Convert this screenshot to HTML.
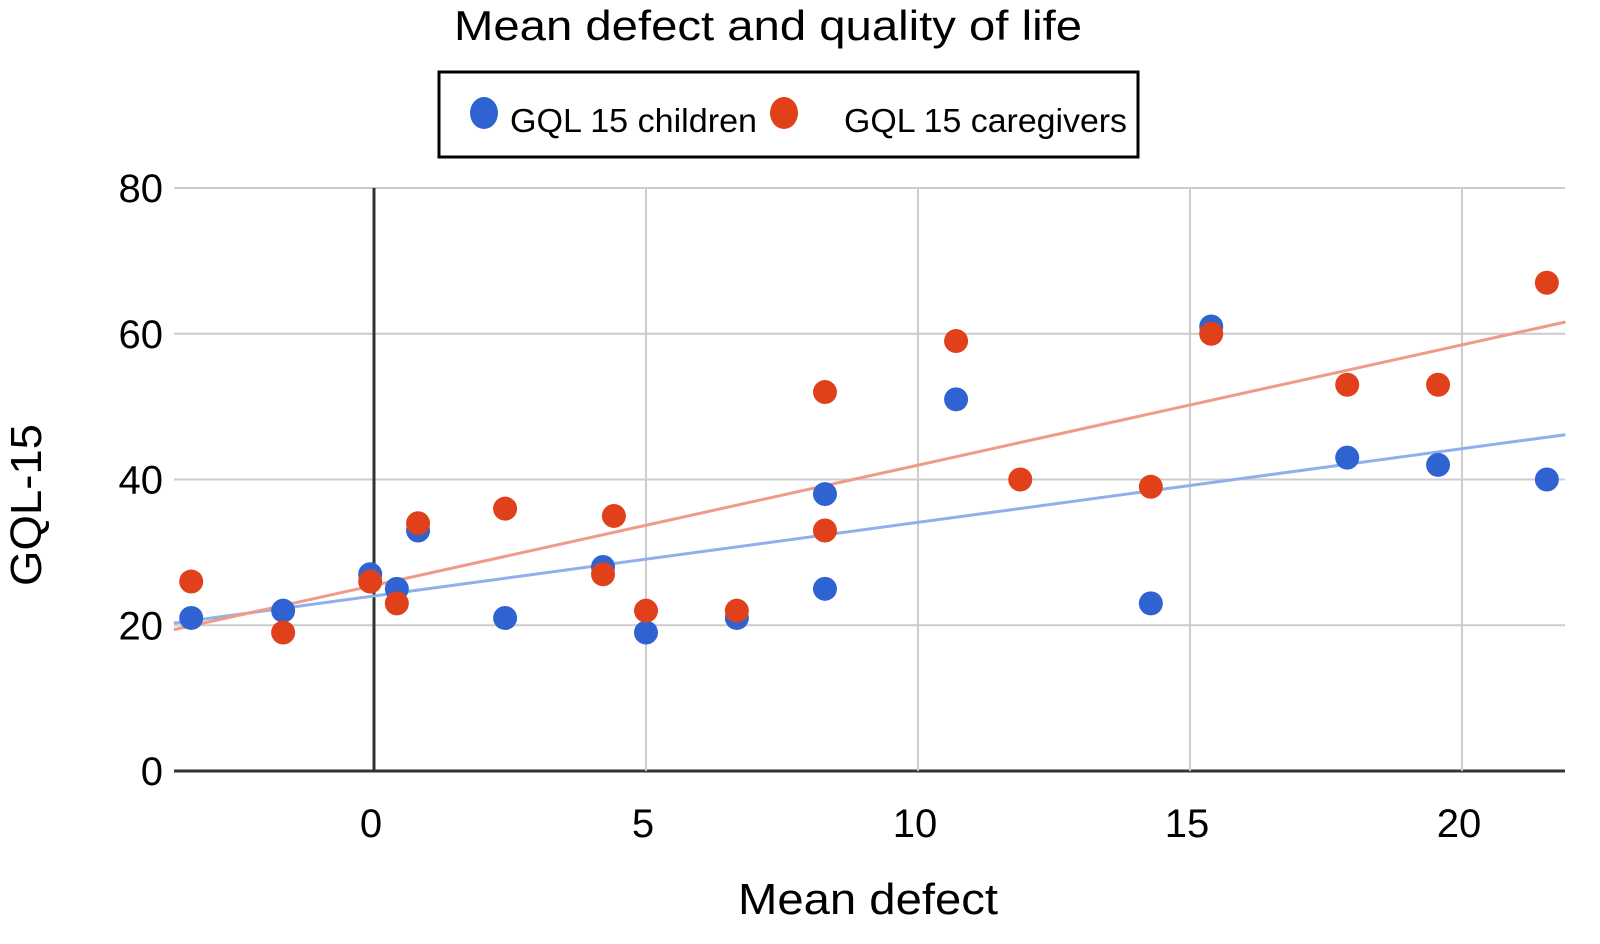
<!DOCTYPE html>
<html><head><meta charset="utf-8"><style>
html,body{margin:0;padding:0;background:#fff;}
svg{display:block;font-family:"Liberation Sans",sans-serif;}
</style></head><body>
<svg id="chart" width="1600" height="944" viewBox="0 0 1600 944">
<text x="768" y="40" font-size="42" text-anchor="middle" textLength="628" lengthAdjust="spacingAndGlyphs">Mean defect and quality of life</text>
<g>
<rect x="439" y="72" width="699" height="85" fill="#fff" stroke="#000" stroke-width="3"/>
<ellipse cx="484" cy="113" rx="14" ry="16" fill="#3063d2"/>
<text x="510" y="132" font-size="33" textLength="247" lengthAdjust="spacingAndGlyphs">GQL 15 children</text>
<ellipse cx="784" cy="113" rx="14" ry="16" fill="#e0401a"/>
<text x="844" y="132" font-size="33" textLength="283" lengthAdjust="spacingAndGlyphs">GQL 15 caregivers</text>
</g>
<g id="grid"></g>
<g id="trends"></g>
<g id="pts"></g>
<g id="labels"></g>
<text x="868" y="914" font-size="44" text-anchor="middle" textLength="260" lengthAdjust="spacingAndGlyphs">Mean defect</text>
<text transform="translate(41,505) rotate(-90)" font-size="44" text-anchor="middle" textLength="162" lengthAdjust="spacingAndGlyphs">GQL-15</text>
</svg>
<script>
const xTicks = [0, 5, 10, 15, 20];
const yTicks = [0, 20, 40, 60, 80];
const childX = [-3.36, -1.67, -0.07, 0.42, 0.81, 2.41, 4.21, 5.0, 6.67, 8.29, 8.29, 10.7, 14.28, 15.39, 17.89, 19.56, 21.56];
const childY = [21, 22, 27, 25, 33, 21, 28, 19, 21, 38, 25, 51, 23, 61, 43, 42, 40];
const careX = [-3.36, -1.67, -0.07, 0.42, 0.81, 2.41, 4.21, 4.41, 5.0, 6.67, 8.29, 8.29, 10.7, 11.88, 14.28, 15.39, 17.89, 19.56, 21.56];
const careY = [26, 19, 26, 23, 34, 36, 27, 35, 22, 22, 52, 33, 59, 40, 39, 60, 53, 53, 67];
const xMin = -3.68, xMax = 21.9;
const X0 = 174, X1 = 1565, Y0 = 771, Y1 = 188;
const sx = v => 374 + v * 54.4;
const sy = v => Y0 - v * (Y0 - Y1) / 80;
const NS = 'http://www.w3.org/2000/svg';
function mk(tag, attrs, parent) {
  const e = document.createElementNS(NS, tag);
  for (const k in attrs) e.setAttribute(k, attrs[k]);
  parent.appendChild(e);
  return e;
}
const grid = document.getElementById('grid');
const labels = document.getElementById('labels');
yTicks.forEach(t => {
  const l = mk('line', {x1: X0, x2: X1, y1: sy(t), y2: sy(t), stroke: t === 0 ? '#333' : '#ccc', 'stroke-width': t === 0 ? 3 : 2}, grid);
  
  
  const tx = mk('text', {x: 163, y: sy(t) + 14, 'font-size': 40, 'text-anchor': 'end'}, labels);
  tx.textContent = t;
  
  
});
xTicks.forEach(t => {
  const l = mk('line', {x1: sx(t), x2: sx(t), y1: Y1, y2: Y0, stroke: t === 0 ? '#333' : '#ccc', 'stroke-width': t === 0 ? 3 : 2}, grid);
  
  
  const tx = mk('text', {x: sx(t) - 3, y: 837, 'font-size': 40, 'text-anchor': 'middle'}, labels);
  tx.textContent = t;
  
  
});
function fit(xs, ys) {
  const n = xs.length; let mx = 0, my = 0;
  for (let i = 0; i < n; i++) { mx += xs[i]; my += ys[i]; }
  mx /= n; my /= n;
  let num = 0, den = 0;
  for (let i = 0; i < n; i++) { num += (xs[i] - mx) * (ys[i] - my); den += (xs[i] - mx) ** 2; }
  const b = num / den; return [my - b * mx, b];
}
const trends = document.getElementById('trends');
[[childX, childY, '#8fb0ea', 'trendline-children'], [careX, careY, '#f09a88', 'trendline-caregivers']].forEach(([xs, ys, c, name]) => {
  const [a, b] = fit(xs, ys);
  const l = mk('line', {x1: sx(xMin), y1: sy(a + b * xMin), x2: sx(xMax), y2: sy(a + b * xMax), stroke: c, 'stroke-width': 3}, trends);
  
  
});
const pts = document.getElementById('pts');
childX.forEach((x, i) => {
  const c = mk('circle', {cx: sx(x), cy: sy(childY[i]), r: 12, fill: '#3063d2'}, pts);
  
  
});
careX.forEach((x, i) => {
  const c = mk('circle', {cx: sx(x), cy: sy(careY[i]), r: 12, fill: '#e0401a'}, pts);
  
  
});
</script>
</body></html>
